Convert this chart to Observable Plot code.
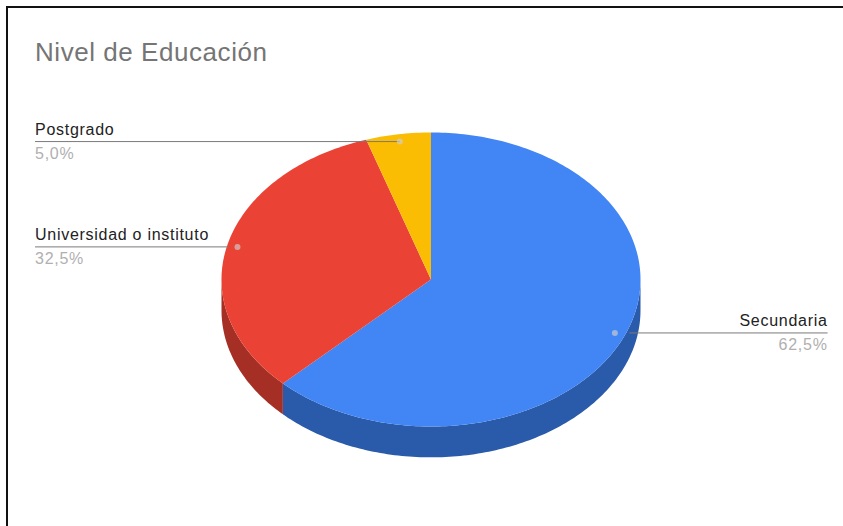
<!DOCTYPE html>
<html lang="es">
<head>
<meta charset="utf-8">
<title>Nivel de Educación</title>
<script src="https://cdn.jsdelivr.net/npm/d3@7"></script>
<script src="https://cdn.jsdelivr.net/npm/@observablehq/plot@0.6"></script>
<style>
  html, body { margin: 0; padding: 0; background: #fff; }
  #card {
    position: relative; box-sizing: border-box; width: 843px; height: 526px; overflow: hidden;
    margin-top: 6px; margin-left: 6px; border-top: 2px solid #111; border-left: 2px solid #111;
    font-family: "Liberation Sans", Arial, sans-serif;
  }
  #title {
    height: 62px; padding: 30px 0 0 27px; box-sizing: border-box; line-height: 28px;
    font-size: 26px; color: #757575; letter-spacing: .55px;
  }
  #chart svg { display: block; }
</style>
</head>
<body>
<div id="card">
  <div id="title">Nivel de Educación</div>
  <div id="chart"></div>
</div>
<script>
// Shares of each education level, in percent
const levels = ["Secundaria", "Universidad o instituto", "Postgrado"];
const shares = [62.5, 32.5, 5.0];
const shareLabels = ["62,5%", "32,5%", "5,0%"];
const topColors = ["#4285f4", "#ea4335", "#fbbc04"];
const wallColors = ["#2a5aaa", "#a52f25", "#b08403"];

// Pie geometry, in units of the pie's radius
const wallDepth = 0.21;
const anchorRadius = 0.95;
const leftEdge = -1.89;
const rightEdge = 1.893;
// Where each leader line stops: near the rim on the large slices, at the dot on the small one
const leaderStops = [0.947, -0.967, null];

const point = (deg, r = 1, drop = 0) => {
  const a = (deg * Math.PI) / 180;
  return {x: r * Math.sin(a), y: r * Math.cos(a) - drop};
};
const arcAngles = (a0, a1) => {
  const n = Math.max(2, Math.ceil(Math.abs(a1 - a0)));
  return d3.range(n + 1).map((i) => a0 + ((a1 - a0) * i) / n);
};

// Slices run clockwise from twelve o'clock
let total = 0;
const slices = levels.map((name, i) => {
  const start = (total / 100) * 360;
  total += shares[i];
  const end = (total / 100) * 360;
  return {name, i, start, end, mid: (start + end) / 2};
});

const tops = slices.flatMap((s) => [
  {...point(0, 0), name: s.name, fill: topColors[s.i]},
  ...arcAngles(s.start, s.end).map((a) => ({...point(a), name: s.name, fill: topColors[s.i]}))
]);

// Only the front half of the rim (90° to 270°) shows a side wall
const walls = slices.flatMap((s) => {
  const a0 = Math.max(s.start, 90), a1 = Math.min(s.end, 270);
  if (a1 <= a0) return [];
  const angles = arcAngles(a0, a1);
  return [
    ...angles.map((a) => ({...point(a), name: s.name, fill: wallColors[s.i]})),
    ...angles.reverse().map((a) => ({...point(a, 1, wallDepth), name: s.name, fill: wallColors[s.i]}))
  ];
});

const callouts = slices.map((s) => {
  const p = point(s.mid, anchorRadius);
  const onRight = p.x > 0;
  return {
    ...p,
    name: s.name,
    label: shareLabels[s.i],
    edge: onRight ? rightEdge : leftEdge,
    stop: leaderStops[s.i] ?? p.x,
    anchor: onRight ? "end" : "start"
  };
});

const pieFace = (data) =>
  Plot.line(data, {x: "x", y: "y", z: "name", fill: "fill", stroke: "none", curve: "linear-closed"});

const labelMarks = (side) => {
  const rows = callouts.filter((d) => d.anchor === side);
  return [
    Plot.text(rows, {x: "edge", y: "y", text: "name", textAnchor: side, dy: -12, fontSize: 16, fill: "#222"}),
    Plot.text(rows, {x: "edge", y: "y", text: "label", textAnchor: side, dy: 12, fontSize: 16, fill: "#b0b0b0"})
  ];
};

const chart = Plot.plot({
  width: 835,
  height: 456,
  margin: 0,
  x: {domain: [-1, 1], range: [213, 632], axis: null},
  y: {domain: [1, -1], range: [62, 356], axis: null},
  style: {fontFamily: "'Liberation Sans', Arial, sans-serif", background: "transparent", letterSpacing: "0.72px"},
  marks: [
    pieFace(walls),
    pieFace(tops),
    Plot.link(callouts, {x1: "edge", x2: "stop", y1: "y", y2: "y", stroke: "#7a7a7a", strokeWidth: 1}),
    Plot.dot(callouts, {x: "x", y: "y", r: 3, fill: "#d0d0d0", fillOpacity: 0.65, stroke: "none"}),
    ...labelMarks("start"),
    ...labelMarks("end")
  ]
});
document.getElementById("chart").append(chart);
</script>
</body>
</html>
